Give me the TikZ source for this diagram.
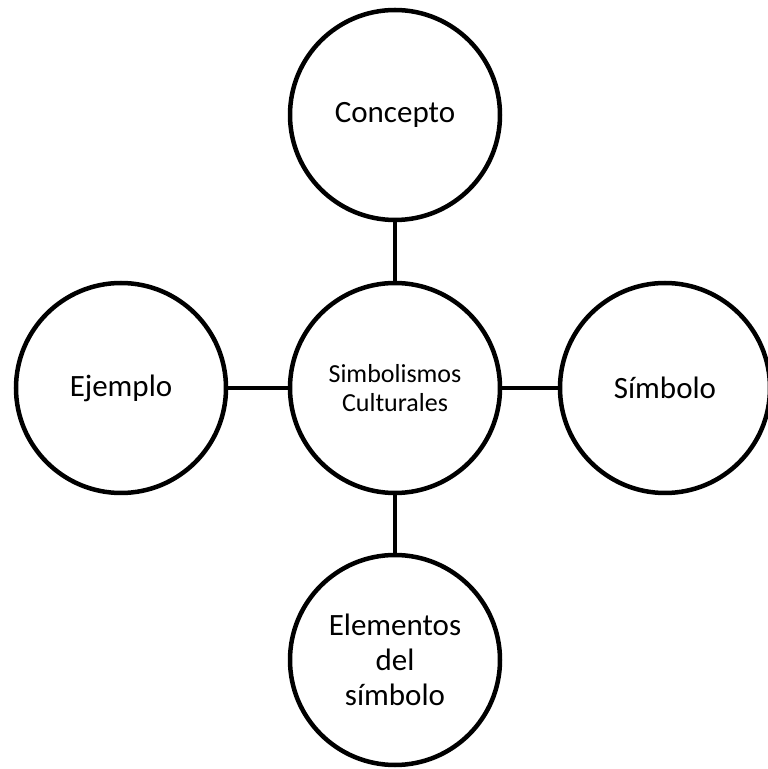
\documentclass[tikz,border=0pt]{standalone}
\usepackage{fontspec}
\setmainfont{Carlito}
\begin{document}
\begin{tikzpicture}[x=1pt,y=1pt,
  bubble/.style={circle,draw=black,line width=4.5pt,fill=white,minimum size=210pt,inner sep=0pt,align=center,font=\fontsize{31}{35}\selectfont},
  hub/.style={bubble,font=\fontsize{26}{29}\selectfont},
  link/.style={draw=black,line width=4.5pt}]
\useasboundingbox (0,0) rectangle (768,769);
\node[hub] (c) at (395,381) {Simbolismos\\Culturales};
\node[bubble] (t) at (395,654) {Concepto};
\node[bubble] (l) at (121,381) {Ejemplo};
\node[bubble] (r) at (665,381) {Símbolo};
\node[bubble] (b) at (395,109) {Elementos\\del\\símbolo};
\draw[link] (c) -- (t);
\draw[link] (c) -- (l);
\draw[link] (c) -- (r);
\draw[link] (c) -- (b);
\end{tikzpicture}
\end{document}
